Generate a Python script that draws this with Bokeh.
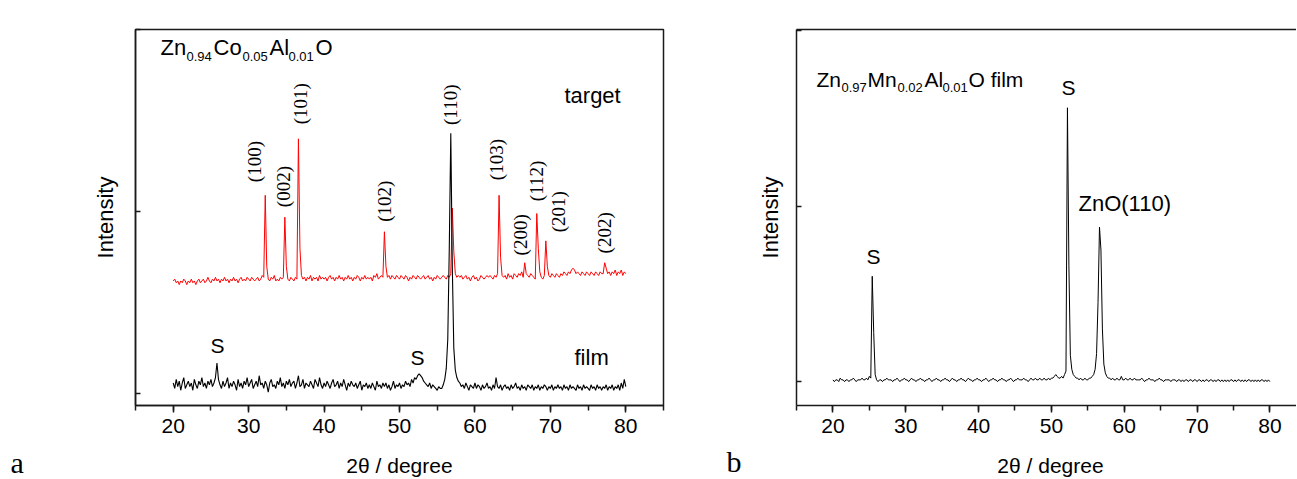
import math
from bokeh.plotting import figure
from bokeh.layouts import row, column
from bokeh.models import (Label, LinearAxis, SingleIntervalTicker, FixedTicker,
                          CustomJSTickFormatter, Range1d)
from bokeh.core.properties import value
from bokeh.embed import file_html
from bokeh.resources import INLINE

# ---------------- data ----------------
# scan grid (degrees 2-theta), step 0.2
two_theta = [round(20 + 0.2 * i, 1) for i in range(301)]

# panel a, film (black), intensity in units of 0.01 (arbitrary)
film_a = [
    6, 3, 8, 4, 7, 2, 6, 9, 3, 5,
    7, 4, 6, 2, 8, 5, 3, 7, 5, 9,
    4, 6, 3, 7, 5, 8, 4, 6, 9, 17,
    8, 5, 3, 7, 4, 6, 9, 3, 6, 4,
    7, 5, 2, 8, 4, 6, 3, 7, 5, 9,
    4, 6, 8, 3, 5, 7, 4, 10, 5, 6,
    3, 7, 5, 1, 6, 8, 4, 5, 3, 7,
    5, 9, 4, 6, 3, 7, 5, 8, 4, 6,
    7, 3, 6, 10, 4, 5, 8, 3, 6, 5,
    4, 7, 5, 3, 8, 6, 4, 9, 5, 3,
    6, 4, 7, 5, 3, 6, 8, 4, 5, 7,
    3, 6, 4, 8, 5, 2, 6, 4, 7, 5,
    4, 6, 3, 5, 7, 2, 5, 4, 6, 3,
    5, 3, 6, 4, 2, 7, 4, 5, 3, 6,
    4, 6, 3, 5, 2, 4, 7, 3, 5, 4,
    6, 3, 5, 4, 7, 5, 6, 4, 8, 6,
    9, 8, 10, 11, 10, 9, 7, 6, 5, 4,
    6, 3, 5, 4, 3, 2, 4, 3, 3, 5,
    8, 14, 30, 80, 143, 70, 25, 13, 9, 7,
    6, 4, 5, 3, 6, 4, 2, 5, 4, 3,
    6, 3, 5, 4, 2, 5, 3, 4, 6, 3,
    4, 2, 5, 3, 9, 4, 3, 5, 2, 4,
    5, 3, 4, 2, 5, 3, 4, 6, 3, 4,
    2, 5, 3, 4, 2, 5, 4, 3, 5, 2,
    4, 3, 5, 2, 4, 3, 5, 4, 2, 4,
    3, 5, 2, 4, 3, 5, 3, 4, 2, 5,
    3, 4, 2, 5, 3, 4, 3, 2, 5, 3,
    4, 2, 5, 3, 4, 3, 2, 5, 3, 4,
    2, 5, 3, 4, 2, 4, 3, 5, 2, 4,
    3, 5, 2, 4, 3, 5, 2, 6, 3, 8,
    4,
]

# panel a, target (red), intensity in units of 0.01
target_a = [
    62, 63, 61, 62, 60, 62, 61, 63, 62, 60,
    62, 61, 63, 61, 62, 60, 62, 63, 61, 62,
    63, 61, 62, 64, 62, 61, 63, 62, 64, 62,
    63, 61, 63, 62, 64, 62, 63, 61, 63, 62,
    64, 62, 63, 61, 63, 64, 62, 63, 62, 64,
    63, 62, 64, 63, 62, 63, 64, 62, 63, 65,
    64, 109, 70, 63, 62, 64, 63, 65, 62, 63,
    62, 64, 63, 64, 97, 70, 63, 62, 64, 63,
    62, 64, 63, 140, 80, 65, 63, 64, 62, 64,
    63, 65, 62, 64, 63, 64, 62, 65, 63, 64,
    63, 64, 62, 64, 65, 63, 64, 62, 64, 63,
    65, 63, 64, 62, 64, 63, 65, 63, 64, 62,
    64, 63, 65, 64, 62, 64, 63, 65, 63, 64,
    63, 64, 62, 65, 64, 66, 63, 64, 65, 64,
    89, 70, 64, 65, 63, 65, 64, 63, 65, 64,
    63, 65, 64, 63, 65, 64, 62, 64, 63, 65,
    64, 63, 65, 64, 63, 64, 65, 63, 64, 65,
    63, 64, 62, 64, 63, 65, 64, 63, 64, 65,
    64, 63, 65, 64, 66, 102, 78, 66, 64, 65,
    64, 65, 63, 64, 65, 63, 64, 62, 64, 65,
    63, 64, 62, 63, 65, 64, 63, 64, 65, 64,
    65, 64, 63, 65, 64, 66, 109, 75, 65, 64,
    65, 63, 66, 64, 65, 63, 66, 65, 64, 66,
    65, 67, 64, 72, 66, 65, 64, 66, 65, 64,
    63, 99, 80, 67, 64, 63, 65, 84, 70, 65,
    64, 66, 65, 64, 66, 65, 64, 66, 65, 67,
    66, 65, 67, 66, 68, 69, 68, 66, 67, 66,
    65, 67, 66, 65, 67, 66, 65, 67, 66, 65,
    67, 66, 65, 67, 66, 66, 72, 69, 66, 67,
    65, 67, 66, 68, 65, 67, 66, 68, 65, 67,
    66,
]

# panel b, film (black), intensity in units of 0.01
film_b = [
    1, 0, 1, 1, 0, 2, 1, 1, 0, 1,
    1, 0, 1, 1, 2, 1, 0, 1, 1, 1,
    2, 1, 1, 2, 1, 3, 2, 60, 28, 4,
    1, 0, 1, 1, 0, 1, 1, 2, 1, 1,
    1, 0, 1, 1, 2, 1, 0, 1, 1, 2,
    1, 1, 0, 1, 2, 1, 1, 0, 1, 1,
    2, 1, 1, 0, 1, 1, 2, 1, 0, 1,
    1, 2, 1, 1, 0, 1, 1, 2, 1, 1,
    0, 1, 2, 1, 1, 0, 1, 1, 2, 1,
    1, 0, 1, 2, 1, 1, 0, 1, 1, 2,
    1, 1, 0, 1, 1, 2, 1, 0, 1, 1,
    2, 1, 1, 0, 1, 1, 2, 1, 1, 0,
    1, 1, 2, 1, 0, 1, 1, 2, 1, 1,
    1, 2, 1, 1, 0, 1, 2, 1, 1, 2,
    1, 1, 2, 1, 1, 2, 1, 1, 2, 1,
    2, 2, 3, 4, 3, 2, 2, 3, 2, 4,
    6, 156, 66, 15, 7, 4, 3, 2, 2, 1,
    2, 1, 1, 2, 1, 1, 2, 2, 3, 4,
    7, 16, 45, 88, 75, 30, 10, 5, 3, 2,
    2, 1, 2, 1, 1, 2, 1, 1, 3, 1,
    1, 2, 1, 1, 2, 1, 1, 2, 1, 1,
    1, 1, 2, 1, 0, 1, 1, 2, 1, 1,
    1, 0, 1, 1, 2, 1, 1, 0, 1, 1,
    1, 1, 0, 1, 1, 1, 0, 1, 1, 0,
    1, 0, 1, 1, 0, 1, 1, 0, 1, 1,
    0, 1, 1, 0, 1, 0, 1, 1, 0, 1,
    1, 0, 1, 0, 1, 1, 0, 1, 0, 1,
    0, 1, 0, 1, 1, 0, 1, 0, 1, 1,
    0, 1, 0, 1, 0, 1, 1, 0, 1, 0,
    1, 0, 1, 0, 1, 1, 0, 1, 0, 1,
    0,
]

miller_labels = ["(100)", "(002)", "(101)", "(102)", "(110)",
                 "(103)", "(200)", "(112)", "(201)", "(202)"]
x_title = "2θ / degree"
y_title = "Intensity"
panel_tags = ["a", "b"]

# ---------------- styling helpers ----------------
SANS = "Liberation Sans"
SERIF = "Liberation Serif"
AX_COLOR = "#1a1a1a"


def style_x(ax):
    ax.ticker = SingleIntervalTicker(interval=10, num_minor_ticks=2)
    ax.major_tick_out = 7
    ax.major_tick_in = 0
    ax.minor_tick_out = 5
    ax.minor_tick_in = 0
    ax.axis_line_width = 1.5
    ax.axis_line_color = AX_COLOR
    ax.major_tick_line_width = 1.5
    ax.minor_tick_line_width = 1.5
    ax.major_tick_line_color = AX_COLOR
    ax.minor_tick_line_color = AX_COLOR
    ax.major_label_text_font = SANS
    ax.major_label_text_font_size = "21px"
    ax.major_label_text_color = "black"
    ax.major_label_standoff = 6


def style_y(ax, standoff):
    ax.ticker = FixedTicker(ticks=[0, 1, 2])
    ax.formatter = CustomJSTickFormatter(code="return ''")
    ax.major_tick_in = 5
    ax.major_tick_out = 0
    ax.minor_tick_in = 0
    ax.minor_tick_out = 0
    ax.major_label_standoff = 0
    ax.axis_line_width = 1.5
    ax.axis_line_color = AX_COLOR
    ax.major_tick_line_width = 1.5
    ax.major_tick_line_color = AX_COLOR
    ax.axis_label_text_font = SANS
    ax.axis_label_text_font_size = "22px"
    ax.axis_label_text_font_style = "normal"
    ax.axis_label_text_color = "black"
    ax.axis_label_standoff = standoff


def add_text(p, x, y, text, size, font=SANS, units="data", align="left",
             baseline="middle", angle=0.0):
    p.add_layout(Label(x=x, y=y, x_units=units, y_units=units, text=text,
                       text_font=font, text_font_size=size, text_color="black",
                       text_align=align, text_baseline=baseline, angle=angle))


def add_formula(p, parts, xs, base_main, base_sub, size_main, size_sub):
    for (txt, is_sub), x in zip(parts, xs):
        add_text(p, x, base_sub if is_sub else base_main, txt,
                 size_sub if is_sub else size_main, units="screen",
                 baseline="alphabetic")


H_TOP = 445      # height of the two plot panels
H_STRIP = 34     # strip below with axis titles and panel letters

# ---------------- panel a ----------------
p1 = figure(width=700, height=H_TOP, x_range=Range1d(15, 85),
            y_range=Range1d(-0.0635, 2.0), output_backend="svg",
            toolbar_location=None, title=None,
            min_border_left=135, min_border_right=37,
            min_border_top=15, min_border_bottom=H_TOP - 405,
            y_axis_label=y_title)
p1.grid.visible = False
p1.outline_line_color = AX_COLOR
p1.outline_line_width = 1.5
p1.background_fill_color = "white"
p1.border_fill_color = "white"
style_x(p1.xaxis[0])
style_y(p1.yaxis[0], 18)

p1.line(two_theta, [v / 100 for v in target_a], line_color="#ff0000", line_width=1)
p1.line(two_theta, [v / 100 for v in film_a], line_color="black", line_width=1.1)

add_formula(p1, [("Zn", False), ("0.94", True), ("Co", False), ("0.05", True),
                 ("Al", False), ("0.01", True), ("O", False)],
            [25, 51, 78, 107, 134, 153, 180], 358, 349, "22px", "13px")

add_text(p1, 71.87, 1.64, "target", "22px")
add_text(p1, 73.2, 0.201, "film", "22px")
add_text(p1, 25.87, 0.265, "S", "21px", align="center")
add_text(p1, 52.39, 0.201, "S", "21px", align="center")

miller_pos_a = [(30.78, 1.275), (34.62, 1.138), (36.87, 1.593), (48.01, 1.058),
                (56.76, 1.587), (62.86, 1.286), (66.04, 0.873), (68.16, 1.169),
                (71.08, 1.000), (77.18, 0.884)]
for lab, (mx, my) in zip(miller_labels, miller_pos_a):
    add_text(p1, mx, my, lab, "19px", font=SERIF, align="center",
             baseline="middle", angle=math.pi / 2)

# ---------------- panel b ----------------
p2 = figure(width=596, height=H_TOP, x_range=Range1d(15, 83.65),
            y_range=Range1d(-0.136, 2.006), output_backend="svg",
            toolbar_location=None, title=None,
            min_border_left=96, min_border_right=0,
            min_border_top=29, min_border_bottom=H_TOP - 406,
            y_axis_label=y_title)
p2.grid.visible = False
p2.outline_line_color = None
p2.background_fill_color = "white"
p2.border_fill_color = "white"
style_x(p2.xaxis[0])
style_y(p2.yaxis[0], 14)

top_ax = LinearAxis(ticker=FixedTicker(ticks=[]),
                    formatter=CustomJSTickFormatter(code="return ''"))
top_ax.axis_line_width = 1.5
top_ax.axis_line_color = AX_COLOR
top_ax.major_tick_out = 0
top_ax.minor_tick_out = 0
top_ax.major_label_standoff = 0
p2.add_layout(top_ax, "above")

p2.line(two_theta, [v / 100 for v in film_b], line_color="black", line_width=1)

add_formula(p2, [("Zn", False), ("0.97", True), ("Mn", False), ("0.02", True),
                 ("Al", False), ("0.01", True), ("O film", False)],
            [20, 45, 71, 101, 128, 146, 172], 326, 318, "21px", "13px")

add_text(p2, 25.57, 0.711, "S", "21px", align="center")
add_text(p2, 52.35, 1.677, "S", "21px", align="center")
add_text(p2, 53.72, 1.017, "ZnO(110)", "22px")

# ---------------- strip below: axis titles and panel letters ----------------
strip = figure(width=1296, height=H_STRIP, x_range=Range1d(0, 1296),
               y_range=Range1d(H_TOP + H_STRIP, H_TOP), output_backend="svg",
               toolbar_location=None, title=None, x_axis_type=None,
               y_axis_type=None, min_border=0)
strip.outline_line_color = None
strip.background_fill_color = "white"
strip.border_fill_color = "white"
strip.text(x=[399, 1050], y=[465, 465], text=[x_title, x_title],
           text_font=value(SANS), text_font_size="21px", text_color="black",
           text_align="center", text_baseline="middle")
strip.text(x=[10, 726], y=[462, 461], text=panel_tags,
           text_font=value(SERIF), text_font_size="30px", text_color="black",
           text_align="left", text_baseline="middle")

layout = column(row(p1, p2), strip)
open("out.html", "w").write(file_html(layout, INLINE))
